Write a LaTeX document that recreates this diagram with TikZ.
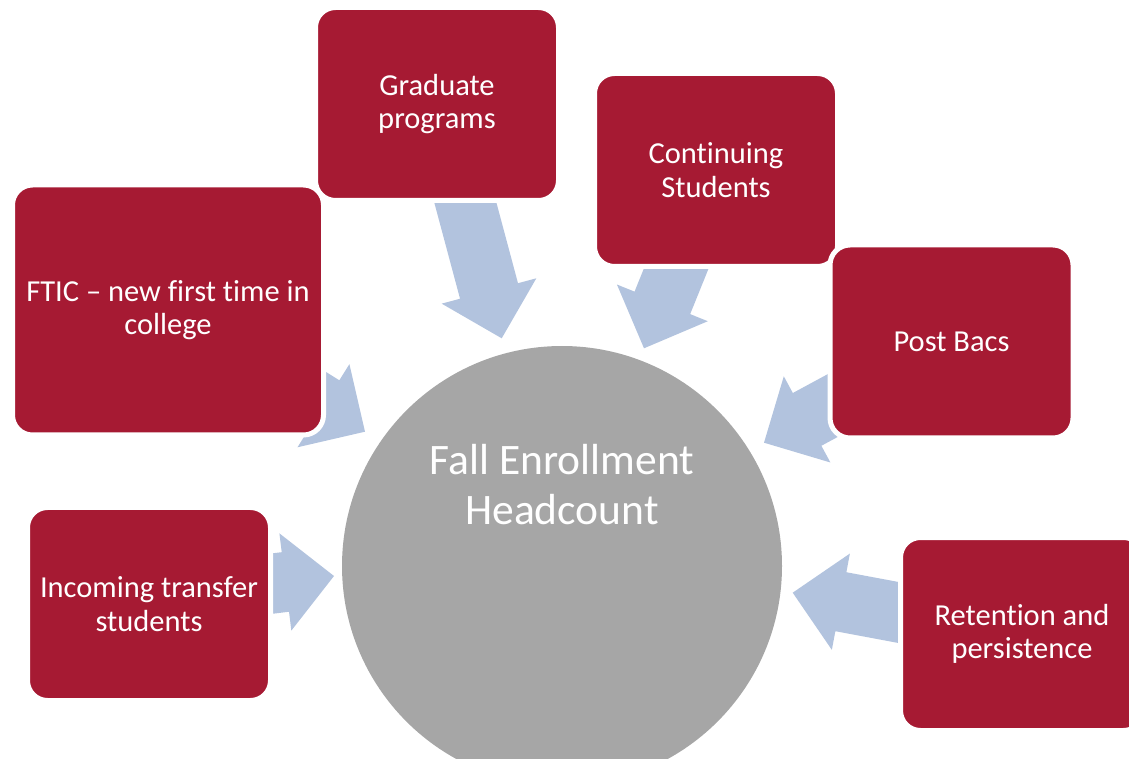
\documentclass[tikz,border=0pt]{standalone}
\usepackage{fontspec}
\setmainfont{Carlito}[Ligatures=NoCommon]
\usetikzlibrary{calc}

\definecolor{boxred}{RGB}{166,26,51}
\definecolor{hubgrey}{RGB}{166,166,166}
\definecolor{flowblue}{RGB}{178,195,222}

\tikzset{
  feeder/.style={rectangle, rounded corners=20pt, fill=boxred, draw=white,
    line width=5pt, text=white, font=\fontsize{30.5}{33.5}\selectfont,
    align=center, inner sep=0pt, minimum width=243pt, minimum height=193pt},
  hub/.style={circle, fill=hubgrey, inner sep=0pt, minimum size=440pt},
  hubtext/.style={text=white, font=\fontsize{43.5}{50}\selectfont, align=center, inner sep=0pt},
  flow/.style={fill=flowblue},
}

% broad block arrow: tip at #1, pointing towards heading #2 (degrees)
\newcommand\inflow[2]{%
  \fill[flow, shift={(#1)}, rotate=#2]
    (0,0) -- (-49,49) -- (-49,30) -- (-175,30) -- (-175,-30)
    -- (-49,-30) -- (-49,-49) -- cycle;}

\begin{document}
\begin{tikzpicture}[x=1pt, y=1pt]
  \useasboundingbox (0,0) rectangle (1129,758);
  \clip (0,0) rectangle (1129,758);

  % central headcount disc
  \node[hub] (hub) at (562,192) {};
  \node[hubtext] (hublabel) at (562,273) {Fall Enrollment\\Headcount};

  % arrow tips, just outside the disc
  \coordinate (tgrad) at (501.7,419.7);
  \coordinate (tcont) at (644,409.7);
  \coordinate (tftic) at (365,326.3);
  \coordinate (tpost) at (764,315.3);
  \coordinate (txfer) at (334,182);
  \coordinate (tret)  at (792.7,165.3);

  \inflow{tgrad}{-75}
  \inflow{tcont}{-112}
  \inflow{tftic}{-32}
  \inflow{tpost}{-151.6}
  \inflow{txfer}{7}
  \inflow{tret}{169.4}

  % sources of enrollment
  \node[feeder, minimum width=311pt, minimum height=250pt] (ftic) at (168,448)
    {FTIC -- new first time in\\college};
  \node[feeder] (grad) at (437,654) {Graduate\\programs};
  \node[feeder] (cont) at (716,588) {Continuing\\Students};
  \node[feeder] (post) at (951.5,416.5) {Post Bacs};
  \node[feeder] (xfer) at (149,154) {Incoming transfer\\students};
  \node[feeder] (ret)  at (1022,124) {Retention and\\persistence};
\end{tikzpicture}
\end{document}
